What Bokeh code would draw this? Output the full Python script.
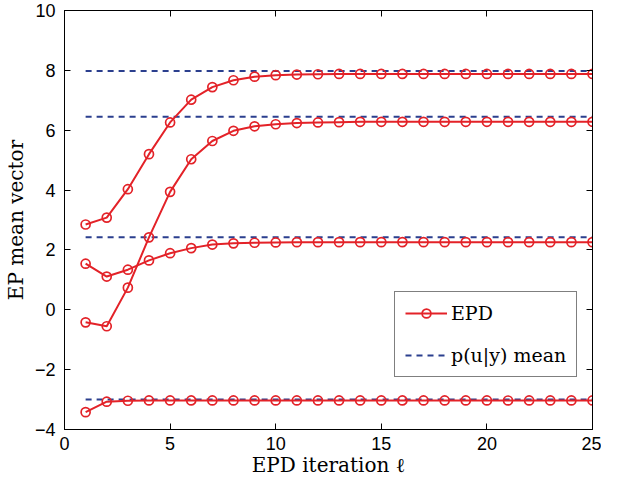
from bokeh.plotting import figure
from bokeh.models import (Legend, LegendItem, LinearAxis, SingleIntervalTicker,
                          Range1d, CustomJSTickFormatter)
from bokeh.embed import file_html
from bokeh.resources import INLINE

# ---- data ----
iterations = list(range(1, 26))
epd_1 = [2.85, 3.08, 4.03, 5.20, 6.26, 7.02, 7.44, 7.67, 7.79, 7.84, 7.86, 7.87,
         7.88, 7.88, 7.88, 7.88, 7.88, 7.88, 7.88, 7.88, 7.88, 7.88, 7.88, 7.88, 7.88]
epd_2 = [-0.42, -0.55, 0.74, 2.42, 3.94, 5.03, 5.64, 5.98, 6.13, 6.20, 6.24, 6.26,
         6.27, 6.28, 6.28, 6.28, 6.28, 6.28, 6.28, 6.28, 6.28, 6.28, 6.28, 6.28, 6.28]
epd_3 = [1.54, 1.11, 1.34, 1.65, 1.89, 2.06, 2.18, 2.22, 2.24, 2.25, 2.26, 2.26,
         2.26, 2.26, 2.26, 2.26, 2.26, 2.26, 2.26, 2.26, 2.26, 2.26, 2.26, 2.26, 2.26]
epd_4 = [-3.42, -3.07, -3.04, -3.03, -3.03, -3.03, -3.03, -3.03, -3.03, -3.03,
         -3.03, -3.03, -3.03, -3.03, -3.03, -3.03, -3.03, -3.03, -3.03, -3.03,
         -3.03, -3.03, -3.03, -3.03, -3.03]
true_means = [7.98, 6.45, 2.42, -3.00]
x_ticks_interval = 5
y_ticks_interval = 2

RED = "#e32228"
BLUE = "#2b3f8e"
TICK_FONT = "Liberation Sans"
SERIF = "DejaVu Serif"

p = figure(width=601, height=479, output_backend="svg", toolbar_location=None,
           x_range=Range1d(0, 25), y_range=Range1d(-4, 10),
           min_border_left=50, min_border_right=9, min_border_top=10,
           min_border_bottom=44)
p.xgrid.visible = False
p.ygrid.visible = False
p.outline_line_color = "black"
p.outline_line_width = 1
p.background_fill_color = "white"
p.border_fill_color = "white"

# dashed true means
xs = [[iterations[0], iterations[-1]] for _ in true_means]
ys = [[m, m] for m in true_means]
dash_r = p.multi_line(xs, ys, line_color=BLUE, line_width=2, line_dash="6 5")

# EPD curves
first_line = first_marker = None
for series in [epd_1, epd_2, epd_3, epd_4]:
    lr = p.line(iterations, series, line_color=RED, line_width=2)
    mr = p.scatter(iterations, series, marker="circle", size=9,
                   line_color=RED, line_width=1.7, fill_color=None)
    if first_line is None:
        first_line, first_marker = lr, mr

# axes styling
def style_axis(ax, interval, show_labels):
    ax.ticker = SingleIntervalTicker(interval=interval)
    ax.axis_line_color = "black"
    ax.major_tick_line_color = "black"
    ax.major_tick_in = 6
    ax.major_tick_out = 0
    ax.minor_tick_line_color = None
    if show_labels:
        ax.major_label_text_font = TICK_FONT
        ax.major_label_text_font_size = "18px"
        ax.major_label_text_color = "black"
    else:
        ax.formatter = CustomJSTickFormatter(code="return '';")
        ax.major_label_standoff = 0

xax = p.xaxis[0]
yax = p.yaxis[0]
style_axis(xax, x_ticks_interval, True)
style_axis(yax, y_ticks_interval, True)
xax.major_label_standoff = 3
yax.major_label_standoff = 5
xax.axis_label = "EPD iteration ℓ"
yax.axis_label = "EP mean vector"
for ax in (xax, yax):
    ax.axis_label_text_font = SERIF
    ax.axis_label_text_font_size = "20px"
    ax.axis_label_text_font_style = "normal"
    ax.axis_label_text_color = "black"
xax.axis_label_standoff = 0
yax.axis_label_standoff = 4

top_ax = LinearAxis()
right_ax = LinearAxis()
style_axis(top_ax, x_ticks_interval, False)
style_axis(right_ax, y_ticks_interval, False)
p.add_layout(top_ax, "above")
p.add_layout(right_ax, "right")

legend = Legend(items=[LegendItem(label="EPD", renderers=[first_line, first_marker]),
                       LegendItem(label="p(u|y) mean", renderers=[dash_r])],
                location=(330, 52))
legend.label_text_font = SERIF
legend.label_text_font_size = "19px"
legend.label_text_color = "black"
legend.border_line_color = "black"
legend.border_line_width = 1
legend.background_fill_color = "white"
legend.background_fill_alpha = 1
legend.padding = 10
legend.spacing = 20
legend.label_height = 22
legend.glyph_height = 22
legend.glyph_width = 42
legend.label_standoff = 4
legend.margin = 0
p.add_layout(legend)

open("out.html", "w").write(file_html(p, INLINE))
